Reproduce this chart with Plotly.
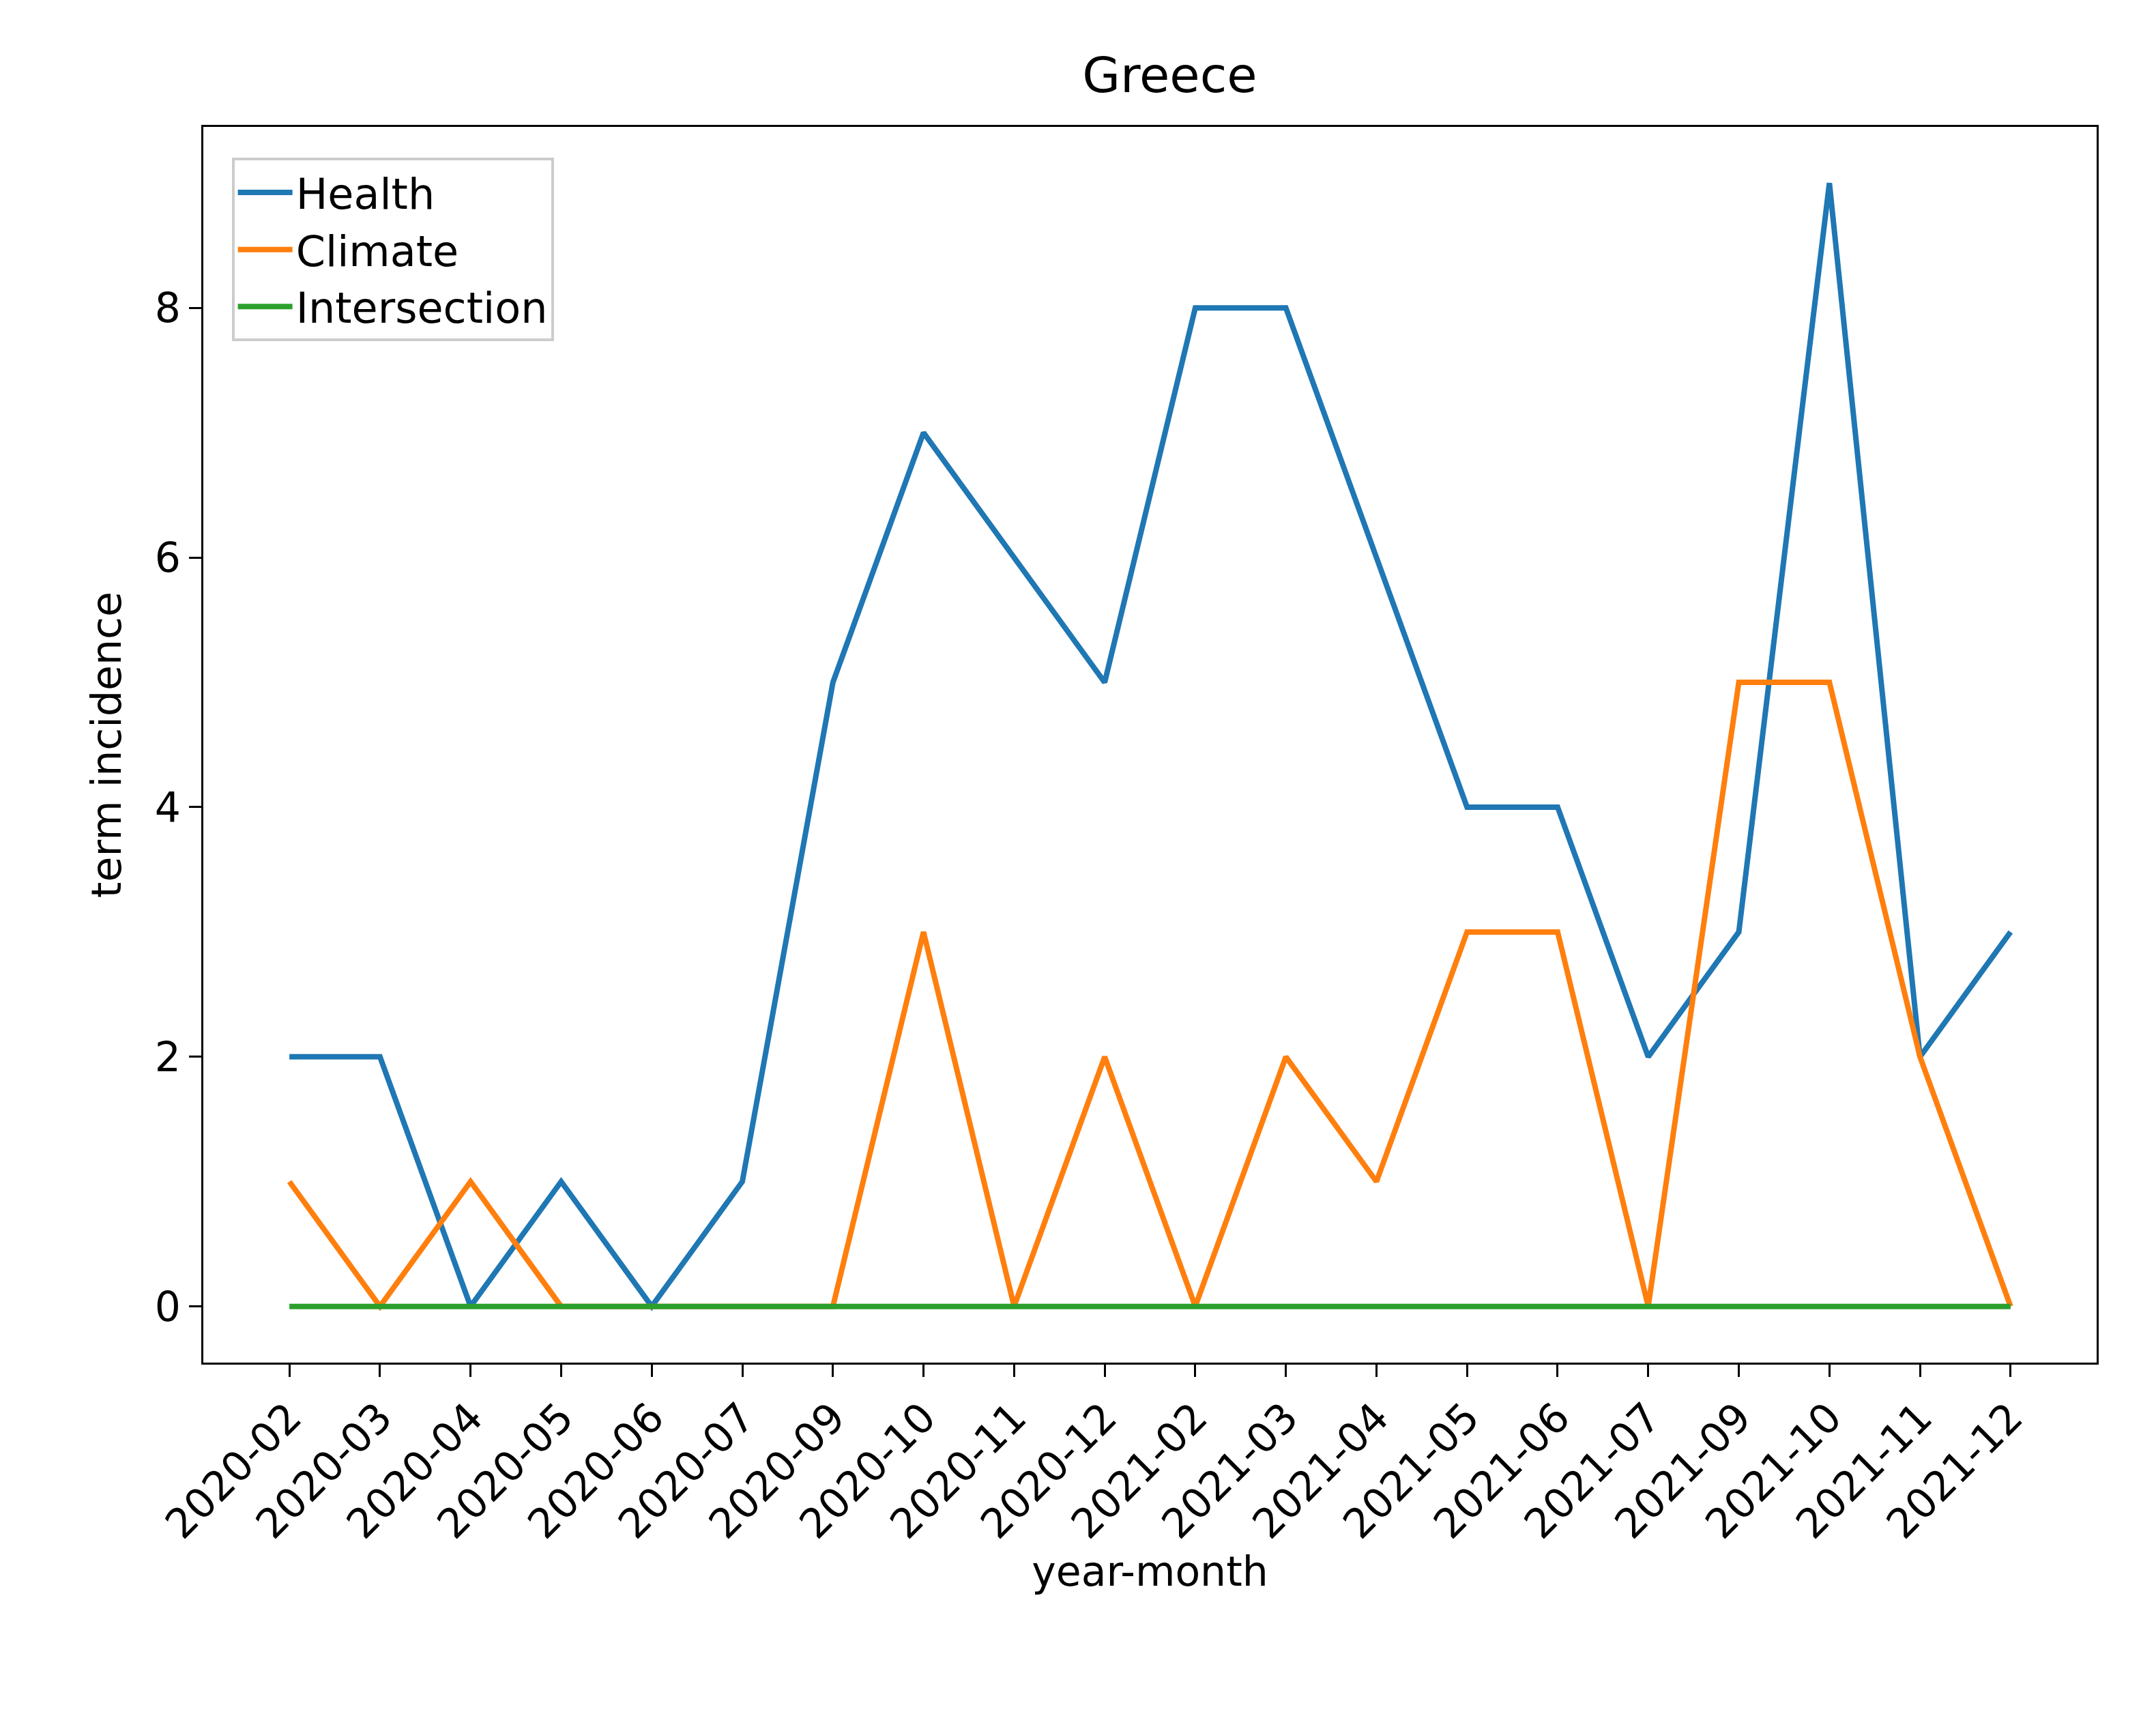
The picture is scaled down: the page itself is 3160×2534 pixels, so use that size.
import plotly.graph_objects as go

months = ["2020-02", "2020-03", "2020-04", "2020-05", "2020-06", "2020-07", "2020-09",
          "2020-10", "2020-11", "2020-12", "2021-02", "2021-03", "2021-04", "2021-05",
          "2021-06", "2021-07", "2021-09", "2021-10", "2021-11", "2021-12"]
health = [2, 2, 0, 1, 0, 1, 5, 7, 6, 5, 8, 8, 6, 4, 4, 2, 3, 9, 2, 3]
climate = [1, 0, 1, 0, 0, 0, 0, 3, 0, 2, 0, 2, 1, 3, 3, 0, 5, 5, 2, 0]
intersection = [0] * 20

fig = go.Figure()
for name, vals, col in [("Health", health, "#1f77b4"),
                        ("Climate", climate, "#ff7f0e"),
                        ("Intersection", intersection, "#2ca02c")]:
    fig.add_trace(go.Scatter(x=months, y=vals, name=name, mode="lines",
                             line=dict(color=col, width=8)))

axis = dict(showline=True, linecolor="black", linewidth=3, mirror=True,
            ticks="outside", ticklen=18, tickwidth=3, tickcolor="black",
            showgrid=False, zeroline=False, tickfont=dict(size=60, color="black"))

fig.update_layout(
    width=3160, height=2534, plot_bgcolor="white", paper_bgcolor="white",
    font=dict(family="DejaVu Sans", color="black"),
    margin=dict(l=290, r=95, t=178, b=545),
    title=dict(text="Greece", x=0.54, xanchor="center", y=0.96, yanchor="middle",
               font=dict(size=72)),
    xaxis=dict(axis, type="category", range=[-0.95, 19.95], tickangle=-45,
               title=dict(text="year-month", font=dict(size=60), standoff=10)),
    yaxis=dict(axis, range=[-0.45, 9.45], tickvals=[0, 2, 4, 6, 8],
               title=dict(text="term incidence", font=dict(size=60), standoff=30)),
    legend=dict(x=0.015, y=0.975, xanchor="left", yanchor="top",
                bgcolor="rgba(255,255,255,0.8)", bordercolor="#cccccc", borderwidth=4,
                font=dict(size=62), itemwidth=80, tracegroupgap=10),
)

fig.write_html("out.html")
